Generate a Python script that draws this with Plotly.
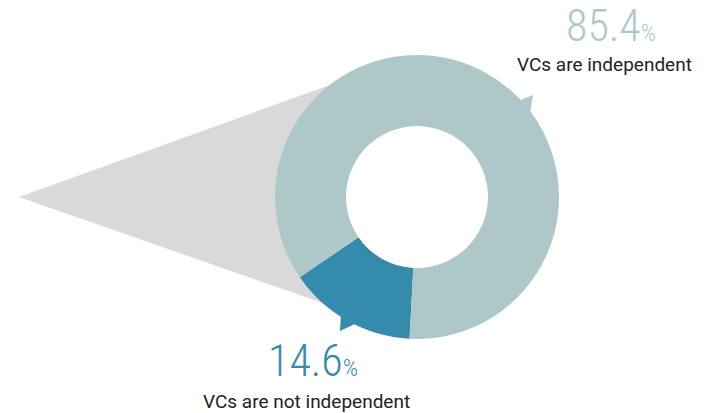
import plotly.graph_objects as go

# Data
labels = ["VCs are not independent", "VCs are independent"]
values = [14.6, 85.4]
colors = ["#358bab", "#aec8c9"]

W, H = 714, 413
CX, CY, R = 417, 197, 142   # donut centre / radius in px

def px(x):
    return x / W

def py(y):
    return 1 - y / H

fig = go.Figure()
fig.add_trace(go.Pie(
    labels=labels, values=values, sort=False, direction="clockwise",
    rotation=183, hole=0.5,
    marker=dict(colors=colors, line=dict(width=0)),
    textinfo="none", hoverinfo="label+percent", showlegend=False,
    domain=dict(x=[px(CX - R), px(CX + R)], y=[py(CY + R), py(CY - R)]),
))

def path(pts):
    return "M " + " L ".join(f"{px(x):.5f},{py(y):.5f}" for x, y in pts) + " Z"

shapes = [
    # grey pointer triangle behind the donut
    dict(type="path", xref="paper", yref="paper", layer="below",
         path=path([(19, 197), (330, 85), (290, 197), (340, 309)]),
         fillcolor="#d9d9d9", line=dict(width=0)),
    # callout notches
    dict(type="path", xref="paper", yref="paper", layer="above",
         path=path([(518, 101), (533, 95), (530, 113)]),
         fillcolor=colors[1], line=dict(width=0)),
    dict(type="path", xref="paper", yref="paper", layer="above",
         path=path([(341, 314), (340, 331), (357, 323)]),
         fillcolor=colors[0], line=dict(width=0)),
]

num_font = "Roboto Condensed, Liberation Sans Narrow, sans-serif"
lab_font = "Roboto, Liberation Sans, Arial, sans-serif"

def pct(v):
    return f"{v}<span style='font-size:24px'>%</span>"

annotations = [
    dict(x=px(611), y=py(26), xref="paper", yref="paper", showarrow=False,
         text=pct(values[1]),
         font=dict(family=num_font, size=44, weight=300, color=colors[1]),
         xanchor="center", yanchor="middle"),
    dict(x=px(604), y=py(65), xref="paper", yref="paper", showarrow=False,
         text=labels[1], font=dict(family=lab_font, size=19, color="#222222"),
         xanchor="center", yanchor="middle"),
    dict(x=px(313), y=py(361), xref="paper", yref="paper", showarrow=False,
         text=pct(values[0]),
         font=dict(family=num_font, size=44, weight=300, color=colors[0]),
         xanchor="center", yanchor="middle"),
    dict(x=px(306), y=py(401), xref="paper", yref="paper", showarrow=False,
         text=labels[0], font=dict(family=lab_font, size=19, color="#222222"),
         xanchor="center", yanchor="middle"),
]

fig.update_layout(
    width=W, height=H, margin=dict(l=0, r=0, t=0, b=0),
    paper_bgcolor="white", plot_bgcolor="white",
    shapes=shapes, annotations=annotations, showlegend=False,
)

fig.write_html(
    "out.html",
    config={"displayModeBar": False},
    post_script="document.body.style.margin='0';document.body.style.overflow='hidden';",
)
